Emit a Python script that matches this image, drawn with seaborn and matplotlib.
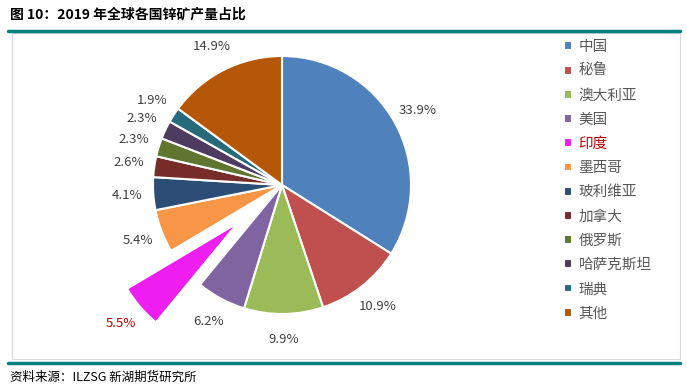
import matplotlib
matplotlib.use("Agg")
import matplotlib.pyplot as plt
import seaborn as sns
from matplotlib.lines import Line2D
from matplotlib.patches import Rectangle

# ---------------- data ----------------
countries = ["中国", "秘鲁", "澳大利亚", "美国", "印度", "墨西哥", "玻利维亚",
             "加拿大", "俄罗斯", "哈萨克斯坦", "瑞典", "其他"]
shares = [33.9, 10.9, 9.9, 6.2, 5.5, 5.4, 4.1, 2.6, 2.3, 2.3, 1.9, 14.9]
colors = ["#4F81BD", "#C0504D", "#9BBB59", "#8064A2", "#EE1DF0", "#F79646",
          "#2C4D75", "#772C2A", "#5F7530", "#4D3B62", "#276A7C", "#B65708"]
highlight = "印度"

title = "图 10：2019 年全球各国锌矿产量占比"
source = "资料来源：ILZSG 新湖期货研究所"

# ---------------- style ----------------
sns.set_theme(style="white")
plt.rcParams["font.family"] = ["Noto Sans CJK SC", "DejaVu Sans"]

W, H = 687, 387
fig = plt.figure(figsize=(W / 100, H / 100), dpi=100)

# frame and teal rules
fig.add_artist(Rectangle((12 / W, 1 - 359 / H), 668 / W, 326 / H,
                         transform=fig.transFigure, fill=False,
                         edgecolor="#D9D9D9", linewidth=0.8))
for y in (31, 363):
    fig.add_artist(Line2D([8 / W, 680 / W], [1 - y / H, 1 - y / H],
                          transform=fig.transFigure, color="#00807F", linewidth=2.5))

fig.text(10 / W, 1 - 15 / H, title, fontsize=10, fontweight="bold",
         color="black", va="center", ha="left")
fig.text(10 / W, 1 - 377 / H, source, fontsize=9, color="black",
         va="center", ha="left")

# ---------------- pie ----------------
cx, cy, r = 282, 185, 129
half = 1.25 * r
ax = fig.add_axes([(cx - half) / W, 1 - (cy + half) / H, 2 * half / W, 2 * half / H])

explode = [0.45 if c == highlight else 0 for c in countries]
wedges, texts, autotexts = ax.pie(
    shares, colors=colors, explode=explode, startangle=90, counterclock=False,
    autopct="%.1f%%", pctdistance=1.2,
    wedgeprops=dict(edgecolor="white", linewidth=1.5),
    textprops=dict(fontsize=9.5, color="#404040"))
for w in wedges:
    w.set_clip_on(False)
for c, t in zip(countries, autotexts):
    if c == highlight:
        t.set_color("#C00000")

# ---------------- legend ----------------
leg = fig.legend(wedges, countries, loc="upper left",
                 bbox_to_anchor=(564 / W, 1 - 40 / H), frameon=False,
                 fontsize=10.5, labelspacing=0.70, handlelength=0.55,
                 handleheight=0.55, handletextpad=0.45, borderpad=0,
                 borderaxespad=0)
for c, t in zip(countries, leg.get_texts()):
    t.set_color("#C00000" if c == highlight else "#595959")

fig.savefig("out.png", dpi=100)
